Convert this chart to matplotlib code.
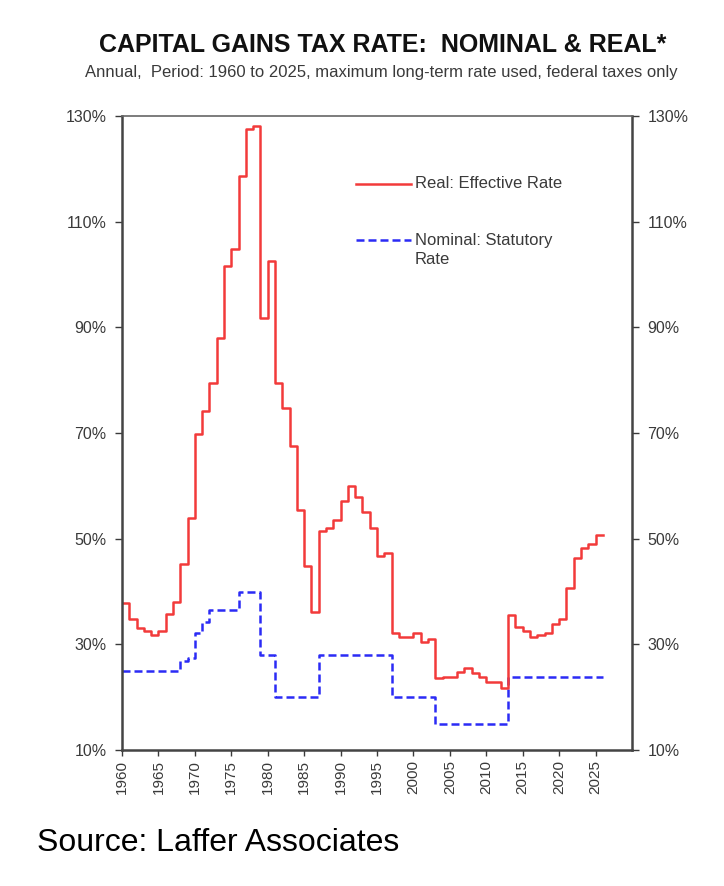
import matplotlib
matplotlib.use("Agg")
import matplotlib.pyplot as plt
from matplotlib.lines import Line2D
import numpy as np

plt.rcParams['font.family'] = ['Liberation Sans', 'DejaVu Sans']

years = list(range(1960, 2026))
real_rate = [37.8, 34.8, 33.0, 32.6, 31.8, 32.6, 35.8, 38.0, 45.3, 53.9,
             69.8, 74.1, 79.4, 87.9, 101.7, 104.8, 118.7, 127.5, 128.2, 91.7,
             102.6, 79.4, 74.7, 67.5, 55.4, 44.9, 36.2, 51.5, 52.1, 53.6,
             57.1, 60.0, 57.8, 55.1, 52.1, 46.8, 47.2, 32.2, 31.3, 31.3,
             32.1, 30.5, 31.0, 23.6, 23.8, 23.8, 24.7, 25.6, 24.6, 23.9,
             22.8, 22.8, 21.7, 35.6, 33.3, 32.5, 31.3, 31.8, 32.1, 33.8,
             34.8, 40.6, 46.3, 48.3, 48.9, 50.7]
nominal_rate = ([25.0] * 8 + [26.9, 27.5, 32.2, 34.25] + [36.5] * 4 + [39.875] * 3
                + [28.0] * 2 + [20.0] * 6 + [28.0] * 10 + [20.0] * 6 + [15.0] * 10
                + [23.8] * 13)
xticks = list(range(1960, 2030, 5))
yticks = [10, 30, 50, 70, 90, 110, 130]
ytick_labels = [f"{v}%" for v in yticks]

red = "#f23a3a"
blue = "#2b2bf5"
gray = "#3a3a3a"

fig = plt.figure(figsize=(7.24, 8.86), dpi=100)
ax = fig.add_axes([0.1685, 0.1535, 0.7044, 0.7155])

xs = years + [years[-1] + 1]
ax.step(xs, nominal_rate + [nominal_rate[-1]], where='post', color=blue, lw=1.8,
        linestyle=(0, (3.2, 1.6)))
ax.step(xs, real_rate + [real_rate[-1]], where='post', color=red, lw=1.8)

ax.set_xlim(1960, 2030)
ax.set_ylim(10, 130)
ax.set_xticks(xticks)
ax.set_xticklabels([str(x) for x in xticks], rotation=90, fontsize=11, color=gray)
ax.set_yticks(yticks)
ax.set_yticklabels(ytick_labels, fontsize=11.5, color=gray)
ax.tick_params(axis='y', which='both', left=True, right=True, labelleft=True,
               labelright=True, direction='out', length=5, width=1, colors=gray, pad=6)
ax.tick_params(axis='x', direction='out', length=4, width=1, colors=gray, pad=3)
for lbl in ax.get_yticklabels() + ax.get_xticklabels():
    lbl.set_color(gray)
for side in ['left', 'bottom', 'right']:
    ax.spines[side].set_linewidth(1.8)
    ax.spines[side].set_color('#444444')
ax.spines['top'].set_linewidth(1.2)
ax.spines['top'].set_color('#666666')

# legend drawn manually
ax.add_line(Line2D([0.459, 0.566], [0.893, 0.893], transform=ax.transAxes, color=red, lw=1.8))
ax.text(0.574, 0.893, "Real: Effective Rate", transform=ax.transAxes, fontsize=12,
        color=gray, va='center', ha='left')
ax.add_line(Line2D([0.459, 0.566], [0.804, 0.804], transform=ax.transAxes, color=blue, lw=1.8,
                   linestyle=(0, (3.2, 1.6))))
ax.text(0.574, 0.804, "Nominal: Statutory", transform=ax.transAxes, fontsize=12,
        color=gray, va='center', ha='left')
ax.text(0.574, 0.773, "Rate", transform=ax.transAxes, fontsize=12,
        color=gray, va='center', ha='left')

fig.text(0.528, 0.949, "CAPITAL GAINS TAX RATE:  NOMINAL & REAL*", ha='center', va='center',
         fontsize=18, fontweight='bold', color='#111111')
fig.text(0.527, 0.918, "Annual,  Period: 1960 to 2025, maximum long-term rate used, federal taxes only",
         ha='center', va='center', fontsize=12, color=gray)
fig.text(0.051, 0.048, "Source: Laffer Associates", ha='left', va='center', fontsize=23, color='black')

fig.savefig("out.png", dpi=100)
